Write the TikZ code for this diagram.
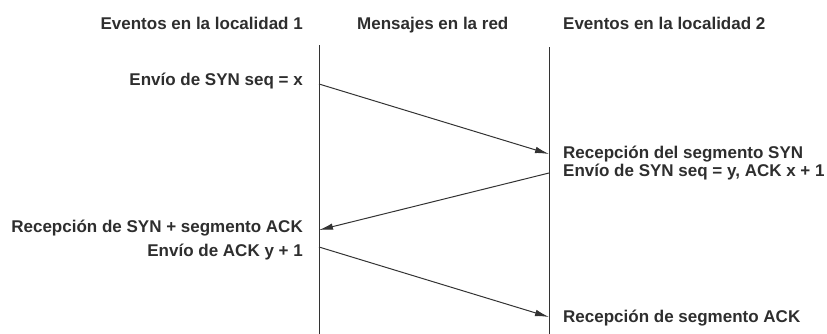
\documentclass[tikz,border=0pt]{standalone}
\usepackage{fontspec}
\setmainfont{Liberation Sans}
\usetikzlibrary{arrows.meta}
\begin{document}
\begin{tikzpicture}[x=1pt,y=-1pt,
  lbl/.style={inner sep=0pt, font=\fontsize{17}{20}\selectfont\bfseries, text=black!82},
  life/.style={draw=black!80, line width=1pt},
  msg/.style={draw=black!80, line width=1pt, -{Latex[length=14pt,width=6.5pt]}}]
\useasboundingbox (0,0) rectangle (827,333);
% lifelines
\coordinate (L1top) at (319,45);
\coordinate (L1bot) at (319,334);
\coordinate (L2top) at (549,47);
\coordinate (L2bot) at (549,334);
\draw[life] (L1top) -- (L1bot);
\draw[life] (L2top) -- (L2bot);
% headers
\node[lbl, anchor=base east] (h1) at (303,29) {Eventos en la localidad 1};
\node[lbl, anchor=base west] (h2) at (357,29) {Mensajes en la red};
\node[lbl, anchor=base west] (h3) at (563,29) {Eventos en la localidad 2};
% events
\node[lbl, anchor=base east] (e1) at (303,85) {Envío de SYN seq = x};
\node[lbl, anchor=base west] (e2) at (563,158) {Recepción del segmento SYN};
\node[lbl, anchor=base west] (e3) at (563,176) {Envío de SYN seq = y, ACK x + 1};
\node[lbl, anchor=base east] (e4) at (303,232) {Recepción de SYN + segmento ACK};
\node[lbl, anchor=base east] (e5) at (303,256) {Envío de ACK y + 1};
\node[lbl, anchor=base west] (e6) at (563,322) {Recepción de segmento ACK};
% message endpoints
\coordinate (m1s) at (319,84);
\coordinate (m1e) at (549,154);
\coordinate (m2s) at (549,173);
\coordinate (m2e) at (319,230);
\coordinate (m3s) at (319,247);
\coordinate (m3e) at (549,317);
\draw[msg] (m1s) -- (m1e);
\draw[msg] (m2s) -- (m2e);
\draw[msg] (m3s) -- (m3e);
\end{tikzpicture}
\end{document}
